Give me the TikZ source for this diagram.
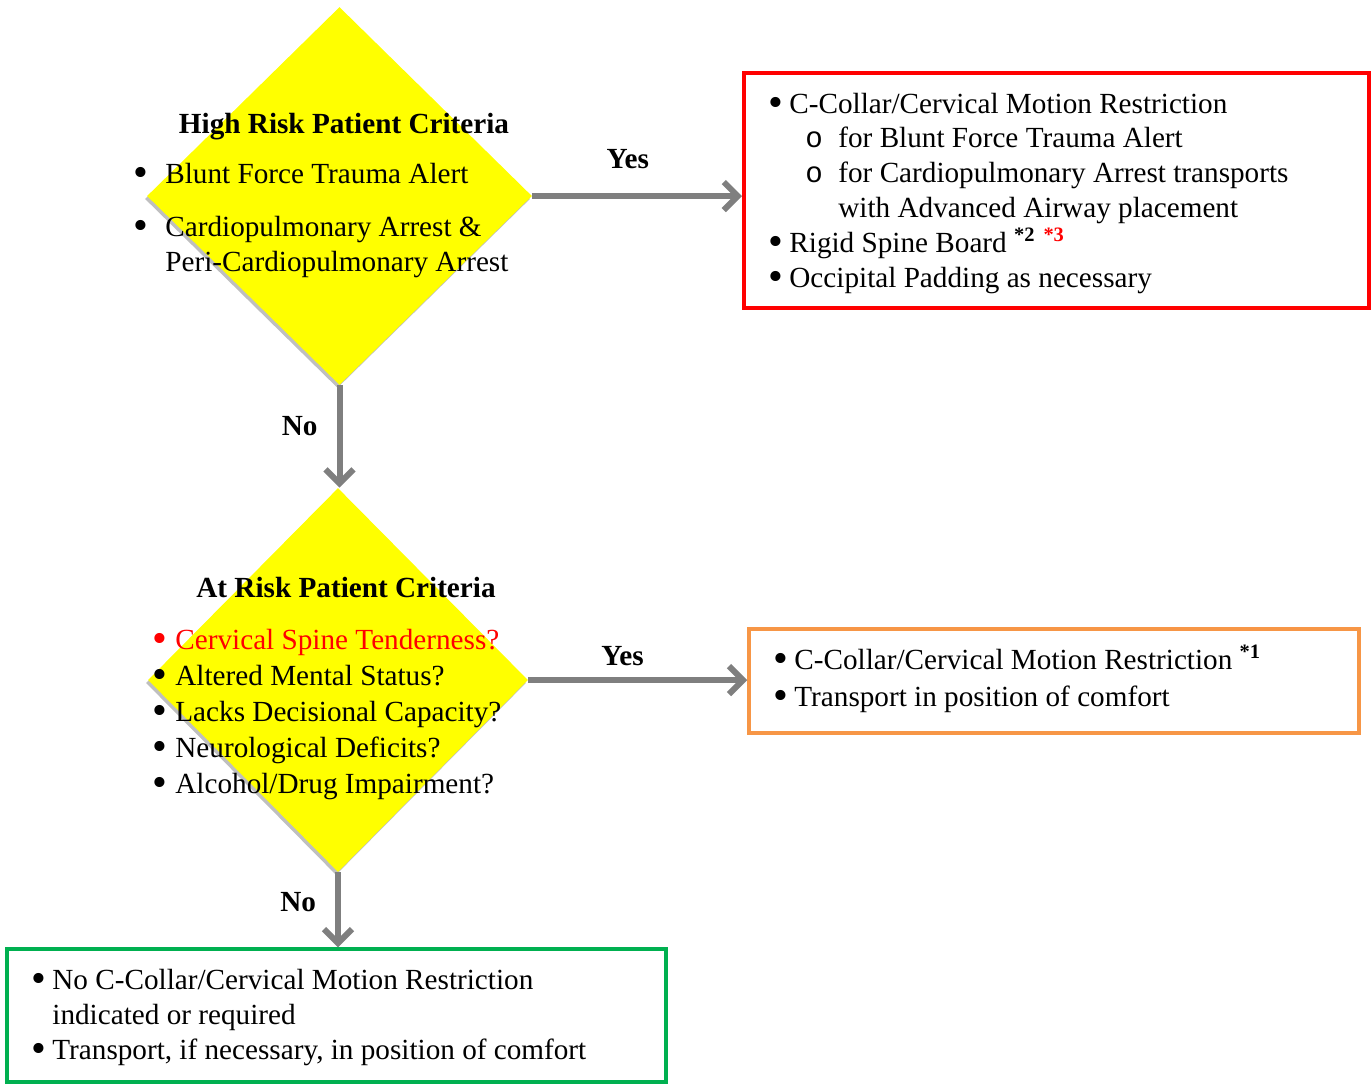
\documentclass[tikz,border=0pt]{standalone}
\usepackage{fontspec}
\setmainfont{Liberation Serif}
\newfontfamily\subbulfont{Liberation Mono}
\usepackage{xcolor}
\usetikzlibrary{arrows.meta, shapes.geometric, positioning, calc, shadows}
\definecolor{flowred}{HTML}{FF0000}
\definecolor{floworange}{HTML}{F79646}
\definecolor{flowgreen}{HTML}{00B050}
\definecolor{flowgray}{HTML}{7F7F7F}
\definecolor{flowyellow}{HTML}{FFFF00}
\newcommand{\itembul}[1][10.5bp]{%
  \makebox[#1][l]{\raisebox{-1.6bp}{\scalebox{1.45}{\textbullet}}}}
\newcommand{\subbul}{\hspace*{18.5bp}\makebox[16.5bp][l]{\subbulfont o}}

\begin{document}
\begin{tikzpicture}[x=0.5bp, y=-0.5bp,
  txt/.style={font=\fontsize{14.6bp}{17.4bp}\selectfont, inner sep=0pt,
              align=left, anchor=base west},
  ttl/.style={font=\fontsize{14.6bp}{17.4bp}\selectfont\bfseries, inner sep=0pt},
  decision/.style={diamond, fill=flowyellow, inner sep=0pt,
                   drop shadow={shadow xshift=-1bp, shadow yshift=-1.5bp,
                                fill=black!25, opacity=1}},
  outcome/.style={rectangle, draw, line width=2bp, inner sep=0pt},
  flow/.style={draw=flowgray, line width=3bp,
               -{Straight Barb[length=7bp, width=14bp]}}]
  \useasboundingbox (0,0) rectangle (1372,1085);

  %% --- Decisions ---
  \node[decision, minimum width=192.5bp, minimum height=189bp]
    (highrisk) at (339.5,196) {};
  \node[decision, minimum width=190bp, minimum height=192bp]
    (atrisk) at (338,680) {};

  %% --- Outcomes ---
  \node[outcome, draw=flowred, minimum width=312.5bp, minimum height=117.5bp]
    (redbox) at (1056.5,190.5) {};
  \node[outcome, draw=floworange, line width=1.75bp,
        minimum width=305bp, minimum height=52bp]
    (orangebox) at (1054,681) {};
  \node[outcome, draw=flowgreen, line width=1.75bp,
        minimum width=329.5bp, minimum height=66.5bp]
    (greenbox) at (336.5,1015.5) {};

  %% --- High risk text (base = last line) ---
  \node[ttl, anchor=base] (hrtitle) at (344,133) {High Risk Patient Criteria};
  \node[txt] (hrlist) at (133,271)
    {\itembul[16bp]Blunt Force Trauma Alert\\[9bp]
     \itembul[16bp]Cardiopulmonary Arrest \&\\
     \hspace*{16bp}Peri-Cardiopulmonary Arrest};

  %% --- At risk text ---
  \node[ttl, anchor=base] (artitle) at (346,597) {At Risk Patient Criteria};
  \node[txt, font=\fontsize{14.6bp}{18bp}\selectfont] (arlist) at (152,793)
    {\textcolor{flowred}{\itembul[11.5bp]Cervical Spine Tenderness?}\\
     \itembul[11.5bp]Altered Mental Status?\\
     \itembul[11.5bp]Lacks Decisional Capacity?\\
     \itembul[11.5bp]Neurological Deficits?\\
     \itembul[11.5bp]Alcohol/Drug Impairment?};

  %% --- Box texts ---
  \node[txt] (redlist) at (768,287)
    {\itembul C-Collar/Cervical Motion Restriction\\
     \subbul for Blunt Force Trauma Alert\\
     \subbul for Cardiopulmonary Arrest transports\\
     \hspace*{35bp}with Advanced Airway placement\\
     \itembul Rigid Spine Board \textsuperscript{\textbf{*2}}\hspace{4bp}%
       \textsuperscript{\textbf{\textcolor{flowred}{*3}}}\\
     \itembul Occipital Padding as necessary};
  \node[txt] (orangelist) at (773,706)
    {\itembul C-Collar/Cervical Motion Restriction \textsuperscript{\textbf{*1}}\\[1bp]
     \itembul Transport in position of comfort};
  \node[txt] (greenlist) at (31,1059)
    {\itembul No C-Collar/Cervical Motion Restriction\\
     \hspace*{10.5bp}indicated or required\\
     \itembul Transport, if necessary, in position of comfort};

  %% --- Connectors ---
  \draw[flow] (highrisk.east) -- (highrisk.east -| redbox.west)
    node[ttl, pos=0.455, above=12bp] (yes1) {Yes};
  \draw[flow] (highrisk.south) -- (highrisk.south |- atrisk.north)
    node[ttl, pos=0.4, left=9.5bp] (no1) {No};
  \draw[flow] (atrisk.east) -- (atrisk.east -| orangebox.west)
    node[ttl, pos=0.43, above=5.5bp] (yes2) {Yes};
  \draw[flow] (atrisk.south) -- (atrisk.south |- greenbox.north)
    node[ttl, pos=0.4, left=9.5bp] (no2) {No};
\end{tikzpicture}
\end{document}
